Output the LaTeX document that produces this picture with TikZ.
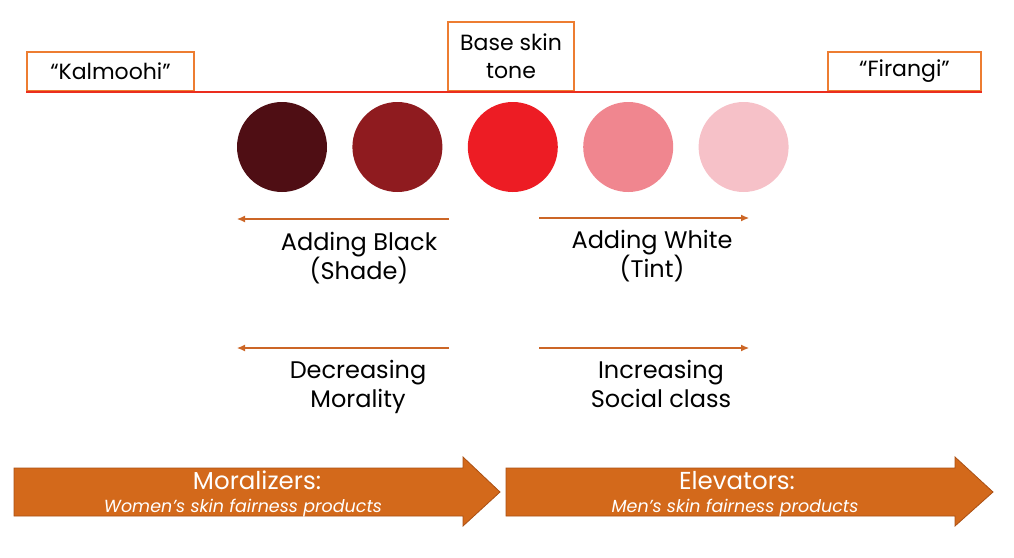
\documentclass[tikz,border=0pt]{standalone}
\usepackage{fontspec}
\setmainfont{Poppins}
\usetikzlibrary{positioning}
\usetikzlibrary{arrows.meta}
\definecolor{boxorange}{RGB}{237,125,49}
\definecolor{tonered}{RGB}{235,45,30}
\definecolor{thinorange}{RGB}{204,102,38}
\definecolor{bigfill}{RGB}{211,105,27}
\definecolor{bigedge}{RGB}{170,80,20}
\definecolor{toneA}{RGB}{79,14,20}
\definecolor{toneB}{RGB}{143,27,31}
\definecolor{toneC}{RGB}{237,28,36}
\definecolor{toneD}{RGB}{240,134,143}
\definecolor{toneE}{RGB}{246,193,200}
\tikzset{node distance=25pt,
         label box/.style={draw=boxorange, line width=1.2pt, fill=white, inner sep=0pt, align=center,
                           font=\fontsize{22}{28}\selectfont},
         tone/.style={circle, minimum size=90pt, inner sep=0pt},
         words/.style={align=center, anchor=base, font=\fontsize{24}{29}\selectfont},
         thin arrow/.style={draw=thinorange, line width=1.1pt, -{Latex[length=8pt,width=7pt]}},
         big arrow/.style={fill=bigfill, draw=bigedge, line width=0.8pt},
         arrow title/.style={text=white, anchor=base, font=\fontsize{24.5}{26}\selectfont},
         arrow sub/.style={text=white, anchor=base, font=\fontsize{17.5}{18}\selectfont\itshape} }

\begin{document}
\begin{tikzpicture}[x=1pt, y=-1pt]
    \useasboundingbox (0,0) rectangle (1014,557);
    % top scale
    \node[label box, minimum width=167pt, minimum height=39pt] (kal) at (110.5,71.5) {“Kalmoohi”};
    \node[label box, minimum width=126pt, minimum height=69pt] (base) at (511,56.5) {Base skin\\tone};
    \node[label box, minimum width=153pt, minimum height=39pt] (fir) at (904.5,71.5) {“Firangi”};
    \draw[tonered, line width=2pt] (kal.south west) -- (fir.south east);
    % tones
    \node[tone, fill=toneA] (t1) at (282,147) {};
    \node[tone, fill=toneB, right=of t1] (t2) {};
    \node[tone, fill=toneC, right=of t2] (t3) {};
    \node[tone, fill=toneD, right=of t3] (t4) {};
    \node[tone, fill=toneE, right=of t4] (t5) {};
    % shade and tint
    \coordinate (shadeS) at (449,219);
    \coordinate (shadeE) at (237,219);
    \coordinate (tintS) at (539,218);
    \coordinate (tintE) at (749,218);
    \draw[thin arrow] (shadeS) -- (shadeE);
    \draw[thin arrow] (tintS) -- (tintE);
    \node[words] (shade) at (359,279) {Adding Black\\(Shade)};
    \node[words] (tint) at (652,277) {Adding White\\(Tint)};
    % morality and class
    \coordinate (moralS) at (449,348);
    \coordinate (moralE) at (237,348);
    \coordinate (classS) at (539,348);
    \coordinate (classE) at (749,348);
    \draw[thin arrow] (moralS) -- (moralE);
    \draw[thin arrow] (classS) -- (classE);
    \node[words] (moral) at (358,407) {Decreasing\\Morality};
    \node[words] (class) at (661,407) {Increasing\\Social class};
    % product arrows
    \draw[big arrow] (14,468) -- (463,468) -- (463,457) -- (500,492) -- (463,526) -- (463,516) -- (14,516) -- cycle;
    \draw[big arrow] (506,468) -- (955,468) -- (955,457) -- (993,492) -- (955,526) -- (955,516) -- (506,516) -- cycle;
    \node[arrow title] (moralizers) at (257,489) {Moralizers:};
    \node[arrow sub] (women) at (243,512) {Women’s skin fairness products};
    \node[arrow title] (elevators) at (737,489) {Elevators:};
    \node[arrow sub] (men) at (735,512) {Men’s skin fairness products};
\end{tikzpicture}
\end{document}
